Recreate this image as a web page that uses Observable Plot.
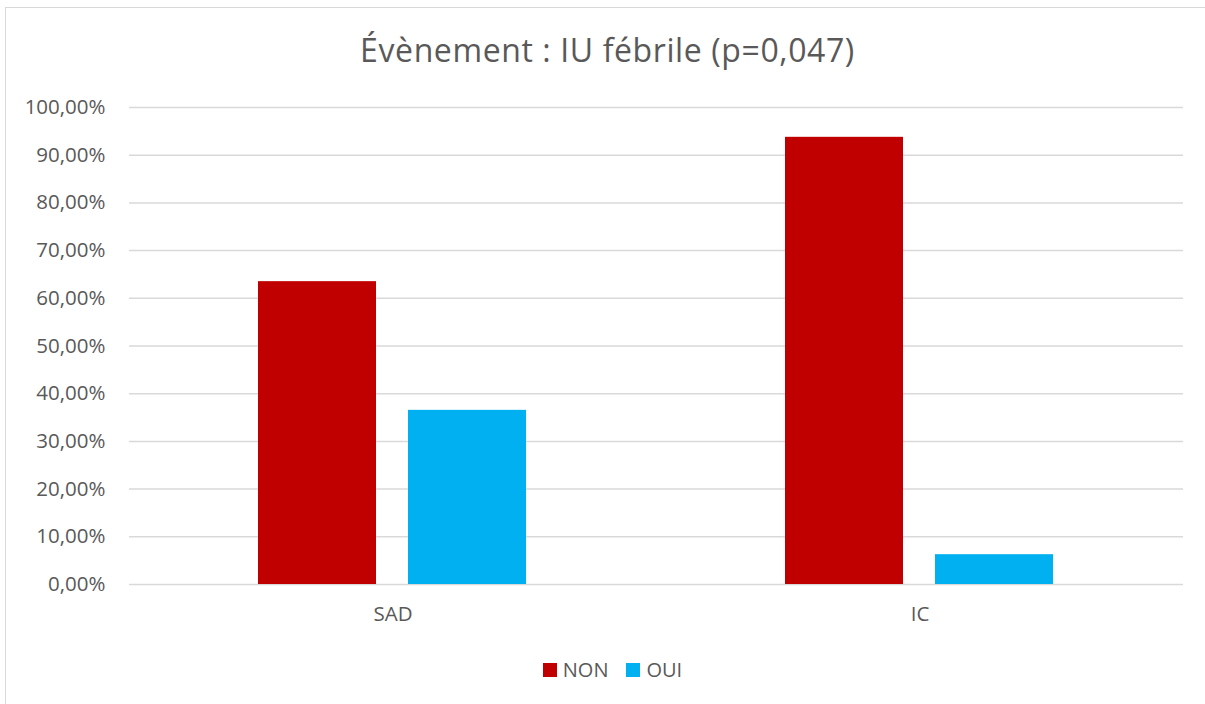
<!DOCTYPE html>
<html>
<head>
<meta charset="utf-8">
<script src="https://cdn.jsdelivr.net/npm/d3@7"></script>
<script src="https://cdn.jsdelivr.net/npm/@observablehq/plot@0.6"></script>
<style>
  body { margin: 0; background: #fff; }
  #wrap { position: relative; width: 1205px; height: 704px; overflow: hidden; font-family: "Open Sans", sans-serif; color: #595959; }
  #frame { position: absolute; left: 5px; top: 7px; width: 1300px; height: 800px; border: 1.5px solid #d9d9d9; box-sizing: border-box; }
  #title { position: relative; height: 90px; box-sizing: border-box; padding-top: 34px; padding-left: 10px; text-align: center; font-size: 32px; letter-spacing: 0.6px; line-height: 1; white-space: nowrap; }
  #chart { position: relative; height: 545px; }
  #legend { position: relative; height: 69px; display: flex; justify-content: center; align-items: center; font-size: 20px; padding-left: 20px; box-sizing: border-box; }
  .item { display: flex; align-items: center; margin: 0 9px; }
  .sw { width: 14px; height: 14px; margin-right: 6px; }
</style>
</head>
<body>
<div id="wrap">
  <div id="frame"></div>
  <div id="title">Évènement : IU fébrile (p=0,047)</div>
  <div id="chart"></div>
  <div id="legend"></div>
</div>
<script>
const groups = ["SAD", "IC"];
const series = ["NON", "OUI"];
const nonValues = [63.49, 93.75];
const ouiValues = [36.51, 6.25];
const yTicks = [0, 10, 20, 30, 40, 50, 60, 70, 80, 90, 100];
const colors = ["#C00000", "#00B0F0"];

const data = groups.flatMap((g, i) => [
  {group: g, series: series[0], value: nonValues[i]},
  {group: g, series: series[1], value: ouiValues[i]}
]);

const fmt = d => d.toFixed(2).replace(".", ",") + "%";

const chart = Plot.plot({
  width: 1205,
  height: 545,
  marginTop: 17,
  marginBottom: 51,
  marginLeft: 129,
  marginRight: 22,
  style: {fontFamily: "'Open Sans', sans-serif", fontSize: "20.5px", color: "#595959", background: "transparent"},
  fx: {domain: groups, padding: 0, label: null, tickSize: 0, tickPadding: 22},
  x: {domain: series, paddingInner: 0.2133, paddingOuter: 0.8633, axis: null},
  y: {domain: [0, 100], ticks: yTicks, tickFormat: fmt, tickSize: 0, tickPadding: 24, label: null},
  color: {domain: series, range: colors},
  marks: [
    Plot.ruleY(yTicks, {stroke: "#d9d9d9", strokeWidth: 1.5}),
    Plot.barY(data, {fx: "group", x: "series", y: "value", fill: "series"})
  ]
});
document.getElementById("chart").appendChild(chart);

const legend = document.getElementById("legend");
series.forEach((s, i) => {
  const item = document.createElement("div");
  item.className = "item";
  const sw = document.createElement("div");
  sw.className = "sw";
  sw.style.background = colors[i];
  const t = document.createElement("span");
  t.textContent = s;
  item.appendChild(sw);
  item.appendChild(t);
  legend.appendChild(item);
});
</script>
</body>
</html>
